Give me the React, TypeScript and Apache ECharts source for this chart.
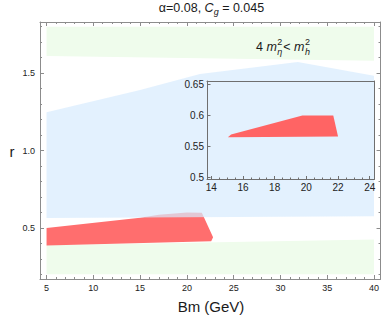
import React, { useEffect, useRef } from "react";
import * as echarts from "echarts";

// ---- tick values ----
const xMajor = [5, 10, 15, 20, 25, 30, 35, 40];
const xMinor = [5, 6, 7, 8, 9, 10, 11, 12, 13, 14, 15, 16, 17, 18, 19, 20, 21, 22, 23, 24, 25, 26, 27, 28, 29, 30, 31, 32, 33, 34, 35, 36, 37, 38, 39, 40];
const yMajor = [0.5, 1.0, 1.5];
const yMinor = [0.2, 0.3, 0.4, 0.5, 0.6, 0.7, 0.8, 0.9, 1.0, 1.1, 1.2, 1.3, 1.4, 1.5, 1.6, 1.7, 1.8];
const insetXMajor = [14, 16, 18, 20, 22, 24];
const insetXMinor = [14, 14.5, 15, 15.5, 16, 16.5, 17, 17.5, 18, 18.5, 19, 19.5, 20, 20.5, 21, 21.5, 22, 22.5, 23, 23.5, 24];
const insetYMajor = [0.5, 0.55, 0.6, 0.65];

// ---- regions (Bm, r) ----
const greenTop = [[5, 1.8], [40, 1.8], [40, 1.58], [5, 1.61]];
const greenBottom = [[5, 0.388], [40, 0.425], [40, 0.2], [5, 0.2]];
const blueRegion = [[5, 1.247], [15, 1.39], [21.4, 1.494], [31.85, 1.572], [40, 1.483], [40, 0.575], [5, 0.564]];
const redRegion = [[5, 0.5], [15, 0.565], [17, 0.585], [20, 0.6], [21.6, 0.598], [22.8, 0.44], [22.6, 0.414], [5, 0.387]];
const insetRed = [[15.05, 0.5648], [15.25, 0.569], [19.75, 0.6], [21.7, 0.6], [22.0, 0.566]];

const FONT = '"Liberation Sans", Arial, sans-serif';
const FRAME = "#8c8c8c";
const INSET_FRAME = "#6f6f6f";
const LABEL = "#222";

function polySeries(pts: number[][], fill: string, opacity: number, xi: number, yi: number, z: number) {
  return {
    type: "custom",
    xAxisIndex: xi,
    yAxisIndex: yi,
    data: pts,
    z,
    silent: true,
    clip: true,
    renderItem: (params: any, api: any) => {
      if (params.dataIndex !== 0) return null;
      const points = pts.map((p) => api.coord(p));
      return { type: "polygon", shape: { points }, style: { fill, opacity } };
    },
  };
}

function axis(opts: any) {
  const { grid, min, max, position, line, lineColor, ticks, len, labels, fmt, margin, fs } = opts;
  return {
    type: "value",
    gridIndex: grid,
    min,
    max,
    position,
    offset: 0,
    z: 10,
    axisLine: { show: !!line, onZero: false, lineStyle: { color: lineColor, width: 1 } },
    splitLine: { show: false },
    axisTick: ticks
      ? { show: true, inside: true, length: len, customValues: ticks, lineStyle: { color: lineColor, width: 1 } }
      : { show: false },
    minorTick: { show: false },
    axisLabel: labels
      ? { show: true, customValues: labels, formatter: fmt, fontSize: fs || 9, color: LABEL, fontFamily: FONT, margin }
      : { show: false },
  };
}

export default function App() {
  const ref = useRef<HTMLDivElement>(null);
  useEffect(() => {
    document.body.style.margin = "0";
    if (!ref.current) return;
    const chart = echarts.init(ref.current, null, { renderer: "svg" });

    const ctx = document.createElement("canvas").getContext("2d")!;
    const w = (t: string, f: string) => {
      ctx.font = f;
      return ctx.measureText(t).width;
    };
    const f12 = `12.5px ${FONT}`;
    const i12 = `italic 12.5px ${FONT}`;
    const f9 = `9px ${FONT}`;
    const i9 = `italic 9px ${FONT}`;

    const txt = (text: string, x: number, y: number, font: string) => ({
      type: "text",
      x,
      y,
      z: 100,
      silent: true,
      style: { text, font, fill: "#1a1a1a", textAlign: "left", verticalAlign: "middle" },
    });

    // title
    const tParts = [
      { t: "α=0.08, ", f: f12, dy: 0 },
      { t: "C", f: i12, dy: 0 },
      { t: "g", f: i9, dy: 3.5 },
      { t: " = 0.045", f: f12, dy: 0 },
    ];
    const tw = tParts.reduce((s, p) => s + w(p.t, p.f), 0);
    let tx = 211.5 - tw / 2;
    const titleEls: any[] = [];
    tParts.forEach((p) => {
      titleEls.push(txt(p.t, tx, 8 + p.dy, p.f));
      tx += w(p.t, p.f);
    });

    // annotation 4 m_eta^2 < m_h^2
    const annEls: any[] = [];
    let ax = 256;
    const ay = 47;
    const add = (t: string, f: string) => {
      annEls.push(txt(t, ax, ay, f));
      ax += w(t, f);
    };
    const scripts = (sup: string, sub: string) => {
      annEls.push(txt(sup, ax + 0.5, ay - 5.5, f9));
      annEls.push(txt(sub, ax + 0.5, ay + 4.5, i9));
      ax += Math.max(w(sup, f9), w(sub, i9)) + 1.5;
    };
    add("4 ", f12);
    add("m", i12);
    scripts("2", "η");
    add("< ", f12);
    add("m", i12);
    scripts("2", "h");

    const option: any = {
      animation: false,
      backgroundColor: "#fff",
      grid: [
        { left: 40, right: 1, top: 22, bottom: 37, show: false },
        { left: 207, right: 8, top: 81, bottom: 136.5, show: false },
      ],
      xAxis: [
        axis({ grid: 0, min: 4.3, max: 40.7, position: "bottom", line: true, lineColor: FRAME, ticks: xMajor, len: 4, labels: xMajor, fmt: (v: number) => String(v), margin: 4 }),
        axis({ grid: 0, min: 4.3, max: 40.7, position: "bottom", line: false, lineColor: FRAME, ticks: xMinor, len: 2 }),
        axis({ grid: 0, min: 4.3, max: 40.7, position: "top", line: true, lineColor: FRAME, ticks: xMajor, len: 4 }),
        axis({ grid: 0, min: 4.3, max: 40.7, position: "top", line: false, lineColor: FRAME, ticks: xMinor, len: 2 }),
        axis({ grid: 1, min: 13.73, max: 24.27, position: "bottom", line: true, lineColor: INSET_FRAME, ticks: insetXMajor, len: 3.5, labels: insetXMajor, fmt: (v: number) => String(v), margin: 3, fs: 10 }),
        axis({ grid: 1, min: 13.73, max: 24.27, position: "bottom", line: false, lineColor: INSET_FRAME, ticks: insetXMinor, len: 2 }),
        axis({ grid: 1, min: 13.73, max: 24.27, position: "top", line: true, lineColor: INSET_FRAME }),
      ],
      yAxis: [
        axis({ grid: 0, min: 0.17, max: 1.83, position: "left", line: true, lineColor: FRAME, ticks: yMajor, len: 4, labels: yMajor, fmt: (v: number) => v.toFixed(1), margin: 5 }),
        axis({ grid: 0, min: 0.17, max: 1.83, position: "left", line: false, lineColor: FRAME, ticks: yMinor, len: 2 }),
        axis({ grid: 0, min: 0.17, max: 1.83, position: "right", line: true, lineColor: FRAME, ticks: yMajor, len: 4 }),
        axis({ grid: 0, min: 0.17, max: 1.83, position: "right", line: false, lineColor: FRAME, ticks: yMinor, len: 2 }),
        axis({ grid: 1, min: 0.4965, max: 0.6555, position: "left", line: true, lineColor: INSET_FRAME, ticks: insetYMajor, len: 3.5, labels: insetYMajor, fmt: (v: number) => String(Number(v.toFixed(2))), margin: 3, fs: 10 }),
        axis({ grid: 1, min: 0.4965, max: 0.6555, position: "right", line: true, lineColor: INSET_FRAME }),
      ],
      series: [
        polySeries(greenTop, "#effcec", 1, 0, 0, 1),
        polySeries(greenBottom, "#effcec", 1, 0, 0, 1),
        polySeries(redRegion, "#ff6e6e", 1, 0, 0, 2),
        polySeries(blueRegion, "#d8ebfd", 0.72, 0, 0, 3),
        polySeries(insetRed, "#ff6464", 1, 4, 4, 5),
      ],
      graphic: [
        ...titleEls,
        ...annEls,
        txt("Bm (GeV)", 211 - w("Bm (GeV)", `15px ${FONT}`) / 2, 306, `15px ${FONT}`),
        txt("r", 12 - w("r", `15px ${FONT}`) / 2, 151, `15px ${FONT}`),
      ],
    };
    chart.setOption(option);
    return () => chart.dispose();
  }, []);
  return <div ref={ref} style={{ position: "absolute", left: 0, top: 0, width: 382, height: 316 }} />;
}
